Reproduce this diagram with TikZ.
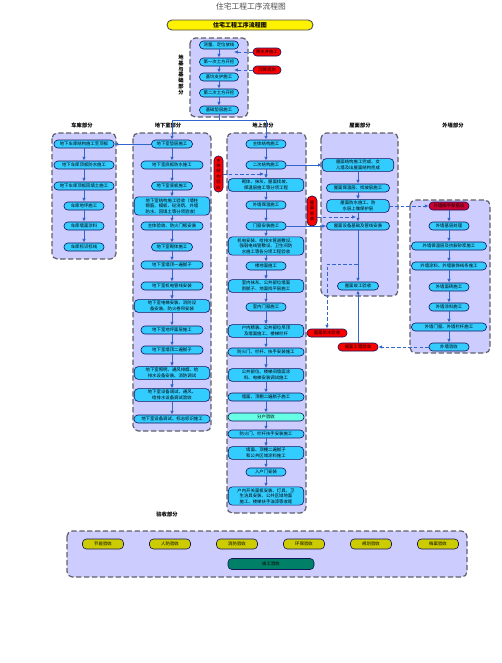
\documentclass[tikz,border=0pt]{standalone}
\usepackage{fontspec}
\setmainfont{Noto Sans CJK SC}
\XeTeXlinebreaklocale "zh"
\XeTeXlinebreakskip=0pt
\usetikzlibrary{calc,arrows.meta}
\usetikzlibrary{positioning}
\newdimen\pxu \pxu=0.02cm
\definecolor{lav}{RGB}{204,204,255}
\definecolor{grpline}{RGB}{96,96,104}
\definecolor{boxblue}{RGB}{51,204,255}
\definecolor{boxline}{RGB}{20,20,90}
\definecolor{arrblue}{RGB}{51,102,204}
\definecolor{crim}{RGB}{204,0,51}
\definecolor{aqua}{RGB}{102,255,230}
\definecolor{chkolive}{RGB}{204,204,0}
\definecolor{jungreen}{RGB}{0,128,102}
\newcommand{\boxfont}{\fontsize{2.5pt}{3.1pt}\selectfont}
\newcommand{\hdfont}{\bfseries\fontsize{3pt}{3.4pt}\selectfont}
\tikzset{
  grp/.style={draw=grpline, fill=lav, line width=0.7pt, dash pattern=on 3pt off 1.5pt, rounded corners=3pt},
  proc/.style={draw=boxline, fill=boxblue, line width=0.35pt, rounded corners=2.2pt,
    minimum height=8\pxu, inner xsep=0.4pt, inner ysep=0.9pt, align=center, font=\boxfont},
  nw/.style={minimum width=#1\pxu},
  tw/.style={text width=#1\pxu},
  alarm/.style={proc, fill=red},
  hd/.style={font=\hdfont, align=center},
  arr/.style={draw=arrblue, line width=0.5pt, -{Latex[length=2.2pt,width=2pt]}},
  darr/.style={arr, dash pattern=on 2pt off 1.2pt},
  chk/.style={proc, fill=chkolive, minimum height=10\pxu, nw=41},
}
\begin{document}
\begin{tikzpicture}[x=1\pxu,y=-1\pxu]
\fill[white] (0,0) rectangle (502,663);
\useasboundingbox (0,0) rectangle (502,663);
%% title
\node[font=\fontsize{4.4pt}{5pt}\selectfont, text=black!70] (ttl) at (251,7) {住宅工程工序流程图};
\node[draw=black!70, fill=yellow, line width=0.5pt, rounded corners=2.8pt, minimum width=146\pxu,
  minimum height=10\pxu, inner sep=0pt, font=\bfseries\fontsize{3.4pt}{4pt}\selectfont] (ban) at (240,25) {住宅工程工序流程图};

%% group frames
\draw[grp] (190,38) rectangle (248,117);
\draw[grp] (52,133) rectangle (116,259);
\draw[grp] (133,133) rectangle (211,431);
\draw[grp] (227,133) rectangle (306,513);
\draw[grp] (321,133) rectangle (398,296);
\draw[grp] (410,200) rectangle (490,353);
\draw[grp] (67,531) rectangle (467,577);

%% foundation
\node[hd] (flab) at (181,75) {地\\基\\与\\基\\础\\部\\分};
\node[proc, nw=39] (f1) at (219,45) {测量、定位放线};
\node[proc, nw=39] (f2) at (219,62) {第一次土方开挖};
\node[proc, nw=39] (f3) at (219,77) {基坑支护施工};
\node[proc, nw=39] (f4) at (219,93) {第二次土方开挖};
\node[proc, nw=39] (f5) at (219,110) {基础垫层施工};
\node[alarm, nw=28] (r1) at (267,52) {降水井施工};
\node[alarm, nw=28] (r2) at (267,70) {沉降观测};
\coordinate (t1) at (234,52);
\coordinate (t2) at (234,70);
\coordinate (split) at (219,120);

%% headers
\node[hd] (h1) at (82,125) {车库部分};
\node[hd] (h2) at (168,125) {地下室部分};
\node[hd] (h3) at (263,125) {地上部分};
\node[hd] (h4) at (360,125) {屋面部分};
\node[hd] (h5) at (453,125) {外墙部分};

%% garage
\node[proc, nw=60] (c1a) at (84,144) {地下车库结构施工至顶板};
\node[proc, nw=60] (c1b) at (84,165) {地下车库顶板防水施工};
\node[proc, nw=60] (c1c) at (84,186) {地下车库顶板回填土施工};
\node[proc, nw=40] (c1d) at (84,206) {车库地坪施工};
\node[proc, nw=40] (c1e) at (84,226) {车库墙面涂料};
\node[proc, nw=40] (c1f) at (84,247) {车库标识标线};

%% basement
\node[proc, nw=41] (c2a) at (172,144) {地下室垫层施工};
\node[proc, nw=62] (c2b) at (172,165) {地下室底板防水施工};
\node[proc, nw=41] (c2c) at (172,186) {地下室底板施工};
\node[proc, tw=74] (c2d) at (172,206) {地下室结构施工验收（墙柱钢筋、模板、砼浇筑、外墙防水、回填土等分项验收）};
\node[proc, nw=62] (c2e) at (172,226) {主体验收、防火门框安装};
\node[proc, nw=41] (c2f) at (172,247) {地下室砌体施工};
\node[proc, nw=62] (c2g) at (172,265) {地下室墙顶一遍腻子};
\node[proc, nw=62] (c2h) at (172,286) {地下室机电管线安装};
\node[proc, tw=74] (c2i) at (172,306) {地下室电梯安装、消防设备安装、防火卷帘安装};
\node[proc, nw=62] (c2j) at (172,330) {地下室地坪面层施工};
\node[proc, nw=62] (c2k) at (172,350) {地下室墙顶二遍腻子};
\node[proc, tw=74] (c2l) at (172,373) {地下室照明、通风排烟、给排水设备安装、消防调试};
\node[proc, tw=74] (c2m) at (172,395) {地下室设备调试、通风、给排水设备调试验收};
\node[proc, nw=76] (c2n) at (172,419) {地下室设备调试、标志标识施工};
\node[alarm, minimum width=9\pxu, minimum height=36\pxu, rounded corners=2.4pt] (pz) at (218.5,174) {主\\体\\结\\构\\验\\收};
\coordinate (t3) at (264,174);

%% above ground
\node[proc, nw=40] (c3a) at (266,144) {主体结构施工};
\node[proc, nw=40] (c3b) at (266,165) {二次结构施工};
\node[proc, tw=74] (c3c) at (266,185) {砌体、抹灰、屋面找坡、保温层施工等分项工程};
\node[proc, nw=40] (c3d) at (266,205) {外墙保温施工};
\node[proc, nw=40] (c3e) at (266,226) {门窗安装施工};
\node[proc, tw=74] (c3f) at (266,246) {机电安装、给排水管道敷设、强弱电线管敷设、卫生间防水施工等各分项工程验收};
\node[proc, nw=40] (c3g) at (266,266) {楼地面施工};
\node[proc, tw=74] (c3h) at (266,286) {室内抹灰、公共部位墙面刮腻子、地面找平层施工};
\node[proc, nw=40] (c3i) at (266,307) {室内门窗施工};
\node[proc, tw=74] (c3j) at (266,331) {户内精装、公共部位吊顶及墙面施工、楼梯栏杆};
\node[proc, nw=76] (c3k) at (266,352) {防火门、栏杆、扶手安装施工};
\node[proc, tw=74] (c3l) at (266,375) {公共部位、楼梯间墙面涂料、电梯安装调试施工};
\node[proc, nw=76] (c3m) at (266,397) {墙面、顶棚二遍腻子施工};
\node[proc, nw=76, fill=aqua] (c3n) at (266,417) {分户验收};
\node[proc, nw=76] (c3o) at (266,434) {防火门、栏杆扶手安装施工};
\node[proc, tw=74] (c3p) at (266,453) {墙面、顶棚二遍腻子和公共区域涂料施工};
\node[proc, nw=40] (c3q) at (266,472) {入户门安装};
\node[proc, tw=74] (c3r) at (266,496) {户内开关面板安装、灯具、卫生洁具安装、公共区域地面施工、楼梯扶手油漆等收尾};
\node[alarm, minimum width=10\pxu, minimum height=30\pxu, rounded corners=2.6pt] (py) at (312,211) {屋\\面\\验\\收};
\coordinate (t4) at (356,217);

%% roof
\node[proc, tw=70] (c4a) at (358,165) {屋面结构施工完成、女儿墙及出屋面结构完成};
\node[proc, nw=63] (c4b) at (358,188) {屋面保温层、找坡层施工};
\node[proc, tw=61] (c4c) at (358,206) {屋面防水施工、防水层上做保护层};
\node[proc, nw=63] (c4d) at (358,226) {屋面设备基础及管线安装};
\node[proc, nw=41] (c4e) at (358,286) {屋面竣工验收};
\node[alarm, nw=40] (rb1) at (327,333) {屋面防水验收};
\node[alarm, nw=40] (rb2) at (358,347) {屋面工程验收};
\coordinate (t5) at (358,264);

%% outer wall
\node[proc, nw=40, fill=crim] (c5a) at (449,206) {外墙脚手架搭设};
\node[proc, nw=40] (c5b) at (449,226) {外墙基层处理};
\node[proc, nw=75] (c5c) at (449,246) {外墙保温层及抗裂砂浆施工};
\node[proc, nw=75] (c5d) at (449,266) {外墙涂料、外墙装饰线条施工};
\node[proc, nw=40] (c5e) at (449,287) {外墙面砖施工};
\node[proc, nw=40] (c5f) at (449,307) {外墙涂料施工};
\node[proc, nw=75] (c5g) at (449,327) {外墙门窗、外墙栏杆施工};
\node[proc, nw=40] (c5h) at (449,347) {外墙验收};

%% acceptance
\node[hd] (vlab) at (167,514) {验收部分};
\node[chk] (v1) at (103,544) {节能验收};
\node[chk] (v2) at (170,544) {人防验收};
\node[chk] (v3) at (237,544) {消防验收};
\node[chk] (v4) at (304,544) {环保验收};
\node[chk] (v5) at (371,544) {规划验收};
\node[chk] (v6) at (438,544) {档案验收};
\node[proc, fill=jungreen, nw=86, minimum height=11\pxu] (vg) at (271,564) {竣工验收};

%% connectors
\draw[arr] (f1) edge (f2) (f2) edge (f3) (f3) edge (f4) (f4) edge (f5);
\draw[darr] (r1) -- (t1);
\draw[darr] (r2) -- (t2);
\draw[arr] (f5) -- (split) -| (c2a);
\draw[arr] (split) -| (c3a);
\draw[arr] (c2a) -- (c1a);
\draw[arr] (c1a) edge (c1b) (c1b) edge (c1c) (c1c) edge (c1d) (c1d) edge (c1e) (c1e) edge (c1f);
\draw[arr] (c2a) edge (c2b) (c2b) edge (c2c) (c2c) edge (c2d) (c2d) edge (c2e) (c2e) edge (c2f) (c2f) edge (c2g)
  (c2g) edge (c2h) (c2h) edge (c2i) (c2i) edge (c2j) (c2j) edge (c2k) (c2k) edge (c2l) (c2l) edge (c2m) (c2m) edge (c2n);
\draw[arr] (c3a) edge (c3b) (c3b) edge (c3c) (c3c) edge (c3d) (c3d) edge (c3e) (c3e) edge (c3f) (c3f) edge (c3g)
  (c3g) edge (c3h) (c3h) edge (c3i) (c3i) edge (c3j) (c3j) edge (c3k) (c3k) edge (c3l) (c3l) edge (c3m)
  (c3m) edge (c3n) (c3n) edge (c3o) (c3o) edge (c3p) (c3p) edge (c3q) (c3q) edge (c3r);
\draw[darr] (pz) -- (t3);
\draw[darr] (py.east |- t4) -- (t4);
\draw[arr] (c3b) -- (c4a);
\draw[arr] (c3e) -- (c4d);
\draw[arr] (c4a) edge (c4b) (c4b) edge (c4c) (c4c) edge (c4d) (c4d) edge (c4e);
\draw[darr] (t5) -| (rb1);
\draw[arr] (rb2) -- (c4e);
\draw[darr] (c4c) -- (c5a);
\draw[arr] (c5a) edge (c5b) (c5b) edge (c5c) (c5c) edge (c5d) (c5d) edge (c5e) (c5e) edge (c5f) (c5f) edge (c5g) (c5g) edge (c5h);
\draw[darr] (c5h) -- (rb2);
\end{tikzpicture}
\end{document}
